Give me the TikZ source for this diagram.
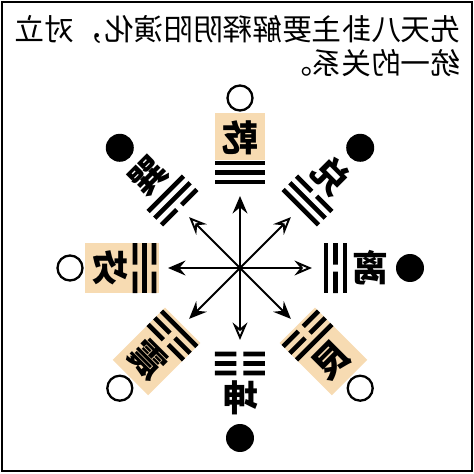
\documentclass[tikz,border=0pt]{standalone}
\usepackage{fontspec}
\usepackage{graphicx}
\newfontfamily\cjk{Noto Sans CJK SC}
\usetikzlibrary{arrows.meta}
\definecolor{gua}{RGB}{247,219,178}

% one yao line of a trigram: radius, 1 = yang (whole), 0 = yin (broken)
\newcommand\yaoline[2]{%
  \ifnum#2=1
    \fill (-25,#1-2.3) rectangle (25,#1+2.3);
  \else
    \fill (-25,#1-2.3) rectangle (-3.5,#1+2.3) (3.5,#1-2.3) rectangle (25,#1+2.3);
  \fi}

\begin{document}
\begin{tikzpicture}[x=0.02cm, y=0.02cm,
    tipfill/.style={line width=1.1pt, -{Stealth[length=10pt,width=8.5pt,inset=3.5pt]}},
    tipopen/.style={line width=1.1pt, -{Stealth[open,length=10pt,width=8.5pt,inset=3.5pt]}},
    guaname/.style={font=\cjk\bfseries\fontsize{20.5}{20.5}\selectfont, inner sep=0pt},
    whitept/.style={circle, draw, line width=1.3pt, minimum size=0.5cm, inner sep=0pt},
    blackpt/.style={circle, fill=black, minimum size=0.56cm, inner sep=0pt},
    title/.style={font=\cjk\fontsize{16.9}{20}\selectfont, inner sep=0pt, anchor=base east}]

    \useasboundingbox (-240,-206) rectangle (234,268);
    \draw[line width=1.2pt] (-238,266) rectangle (232,-203);

    % title, mirrored as in the picture
    \node[title] (title1) at (221,228) {\reflectbox{先天八卦主要解释阴阳演化，对立}};
    \node[title] (title2) at (221,194) {\reflectbox{统一的关系。}};

    % the eight trigrams: angle/name/inner/middle/outer/rotation/box/dot
    \foreach \a/\g/\i/\m/\o/\rot/\bx/\dot in {
        90/乾/1/1/1/0/1/0,   45/兑/1/1/0/-45/0/1,
        0/离/1/0/1/0/0/1,    315/艮/0/0/1/45/2/0,
        270/坤/0/0/0/0/0/1,  225/震/1/0/0/-45/2/0,
        180/坎/0/1/0/0/2/0,  135/巽/0/1/1/45/0/1}{
        \begin{scope}[rotate=\a-90]
            \ifnum\bx=1 \fill[gua] (-25,108) rectangle (25,155); \fi
            \ifnum\bx=2 \fill[gua] (-25,81) rectangle (25,155); \fi
            \yaoline{86}{\i}
            \yaoline{95.5}{\m}
            \yaoline{105}{\o}
        \end{scope}
        \node[guaname, rotate=\rot] (gua\a) at (\a:130) {\reflectbox{\g}};
        \ifnum\dot=1
            \node[blackpt] (pt\a) at (\a:170) {};
        \else
            \node[whitept] (pt\a) at (\a:170) {};
        \fi
    }

    % arrows from the centre
    \coordinate (c) at (0,0);
    \foreach \a/\k in {90/tipfill, 45/tipopen, 0/tipopen, 315/tipfill,
                       270/tipopen, 225/tipfill, 180/tipfill, 135/tipopen}{
        \coordinate (tip\a) at (\a:72);
        \draw[\k] (c) -- (tip\a);
    }
\end{tikzpicture}
\end{document}
